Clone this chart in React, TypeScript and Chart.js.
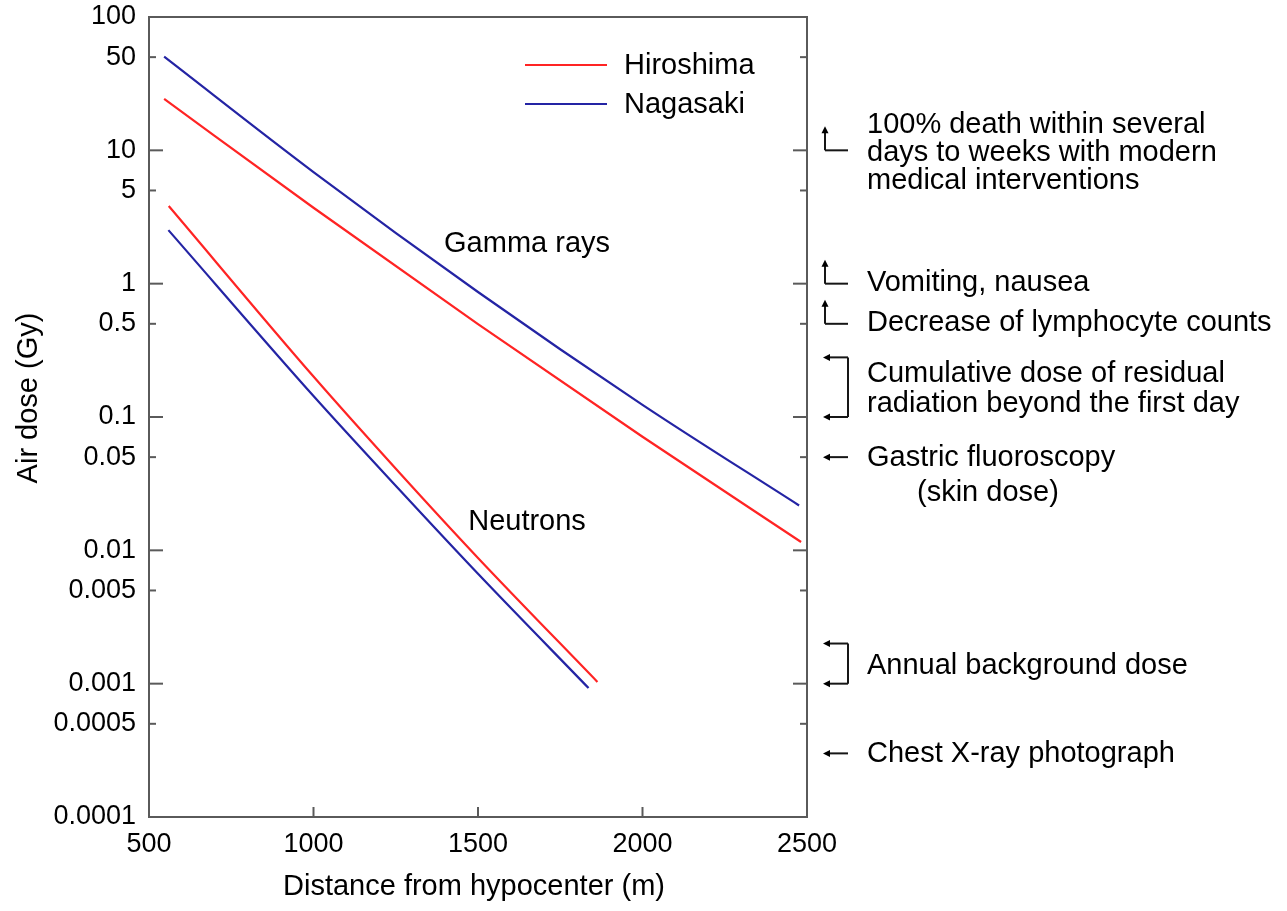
import React, { useEffect, useRef } from "react";
import { Chart, registerables } from "chart.js";

Chart.register(...registerables);

// ---- Data (distance in m, air dose in Gy) ----
const hiroshimaGammaDistance = [546, 1000, 1500, 2000, 2482];
const hiroshimaGammaDose = [24.3, 3.71, 0.498, 0.0711, 0.01155];
const nagasakiGammaDistance = [546, 1000, 1500, 2000, 2476];
const nagasakiGammaDose = [50.4, 6.87, 0.866, 0.1234, 0.0217];
const hiroshimaNeutronDistance = [560, 1000, 1262, 1500, 1863];
const hiroshimaNeutronDose = [3.82, 0.201, 0.038, 0.00876, 0.00103];
const nagasakiNeutronDistance = [559, 1000, 1257, 1500, 1836];
const nagasakiNeutronDose = [2.52, 0.1436, 0.0292, 0.00667, 0.000927];

const yTickValues = [100, 50, 10, 5, 1, 0.5, 0.1, 0.05, 0.01, 0.005, 0.001, 0.0005, 0.0001];
const yTickLabels = ["100", "50", "10", "5", "1", "0.5", "0.1", "0.05", "0.01", "0.005", "0.001", "0.0005", "0.0001"];
const xTickValues = [500, 1000, 1500, 2000, 2500];
const xTickLabels = ["500", "1000", "1500", "2000", "2500"];

const seriesNames = ["Hiroshima", "Nagasaki"];
const seriesColors = ["#ff2424", "#2424a4"];

// right-hand annotations
const upArrowDoses = [10, 1, 0.5];
const upArrowTexts = [
  ["100% death within several", "days to weeks with modern", "medical interventions"],
  ["Vomiting, nausea"],
  ["Decrease of lymphocyte counts"],
];
const rangeLowDoses = [0.1, 0.001];
const rangeHighDoses = [0.28, 0.002];
const rangeTexts = [
  ["Cumulative dose of residual", "radiation beyond the first day"],
  ["Annual background dose"],
];
const pointDoses = [0.05, 0.0003];
const pointTexts = [["Gastric fluoroscopy", "(skin dose)"], ["Chest X-ray photograph"]];

const curveLabels = ["Gamma rays", "Neutrons"];
const curveLabelDistance = [1649, 1649];
const curveLabelDose = [1.98, 0.0163];

const FONT = '"Liberation Sans", Arial, Helvetica, sans-serif';
const INK = "#000000";

function pts(xs: number[], ys: number[]) {
  return xs.map((x, i) => ({ x, y: ys[i] }));
}

export default function App() {
  const ref = useRef<HTMLCanvasElement>(null);

  useEffect(() => {
    const canvas = ref.current!;

    const overlay = {
      id: "overlay",
      afterDraw(chart: any) {
        const c: CanvasRenderingContext2D = chart.ctx;
        const { left, right, top, bottom } = chart.chartArea;
        const xs = chart.scales.x;
        const ys = chart.scales.y;
        const line = (x1: number, y1: number, x2: number, y2: number) => {
          c.beginPath();
          c.moveTo(x1, y1);
          c.lineTo(x2, y2);
          c.stroke();
        };
        const head = (x: number, y: number, dir: "up" | "left") => {
          c.beginPath();
          if (dir === "up") {
            c.moveTo(x, y);
            c.lineTo(x - 3.5, y + 7);
            c.lineTo(x + 3.5, y + 7);
          } else {
            c.moveTo(x, y);
            c.lineTo(x + 7, y - 3.5);
            c.lineTo(x + 7, y + 3.5);
          }
          c.closePath();
          c.fill();
        };
        c.save();
        // frame
        c.strokeStyle = "#5a5a5a";
        c.lineWidth = 2;
        c.strokeRect(left, top, right - left, bottom - top);
        // y ticks (inward, both sides)
        yTickValues.forEach((v) => {
          const y = ys.getPixelForValue(v);
          const lg = Math.log10(v);
          const major = Math.abs(lg - Math.round(lg)) < 1e-6;
          const len = major ? 14 : 7;
          line(left, y, left + len, y);
          line(right, y, right - len, y);
        });
        xTickValues.slice(1, -1).forEach((v) => {
          const x = xs.getPixelForValue(v);
          line(x, bottom, x, bottom - 10);
        });

        // axis titles
        c.fillStyle = INK;
        c.font = `29px ${FONT}`;
        c.textAlign = "center";
        c.textBaseline = "middle";
        c.fillText("Distance from hypocenter (m)", (left + right) / 2 - 4, 887);
        c.save();
        c.translate(29, 398);
        c.rotate(-Math.PI / 2);
        c.fillText("Air dose (Gy)", 0, 0);
        c.restore();

        // curve labels
        curveLabels.forEach((t, i) => {
          c.fillText(t, xs.getPixelForValue(curveLabelDistance[i]), ys.getPixelForValue(curveLabelDose[i]));
        });

        // legend
        c.textAlign = "left";
        seriesNames.forEach((n, i) => {
          const ly = top + 48 + i * 39;
          c.strokeStyle = seriesColors[i];
          c.lineWidth = 2;
          line(525, ly, 607, ly);
          c.fillStyle = INK;
          c.fillText(n, 624, ly + 1);
        });

        // right annotations
        c.strokeStyle = "#161616";
        c.fillStyle = INK;
        c.lineWidth = 2;
        const ax = right + 18;
        const bx = right + 41;
        const tx = right + 60;
        const lh = 28;
        upArrowDoses.forEach((d, i) => {
          const y = ys.getPixelForValue(d);
          line(ax, y, bx, y);
          line(ax, y, ax, y - 19);
          head(ax, y - 24, "up");
          const lines = upArrowTexts[i];
          const start = lines.length === 3 ? y - 25 : y - 1;
          lines.forEach((t, j) => c.fillText(t, tx, start + j * lh));
        });
        rangeLowDoses.forEach((d, i) => {
          const yl = ys.getPixelForValue(d);
          const yh = ys.getPixelForValue(rangeHighDoses[i]);
          line(ax + 3, yh, bx, yh);
          line(bx, yh, bx, yl);
          line(ax + 3, yl, bx, yl);
          head(ax - 2, yh, "left");
          head(ax - 2, yl, "left");
          const lines = rangeTexts[i];
          const mid = (yl + yh) / 2 + 2;
          const start = mid - ((lines.length - 1) * 30) / 2;
          lines.forEach((t, j) => c.fillText(t, tx, start + j * 30));
        });
        pointDoses.forEach((d, i) => {
          const y = ys.getPixelForValue(d);
          line(ax + 3, y, bx, y);
          head(ax - 2, y, "left");
          const lines = pointTexts[i];
          c.fillText(lines[0], tx, y + 1);
          if (lines[1]) c.fillText(lines[1], tx + 50, y + 36);
        });
        c.restore();
      },
    };

    const mkDs = (label: string, data: any[], color: string) => ({
      label,
      data,
      borderColor: color,
      backgroundColor: color,
      borderWidth: 2.2,
      pointRadius: 0,
      fill: false,
      cubicInterpolationMode: "monotone" as const,
    });

    const chart = new Chart(canvas, {
      type: "line",
      data: {
        datasets: [
          mkDs("Hiroshima gamma", pts(hiroshimaGammaDistance, hiroshimaGammaDose), seriesColors[0]),
          mkDs("Nagasaki gamma", pts(nagasakiGammaDistance, nagasakiGammaDose), seriesColors[1]),
          mkDs("Hiroshima neutrons", pts(hiroshimaNeutronDistance, hiroshimaNeutronDose), seriesColors[0]),
          mkDs("Nagasaki neutrons", pts(nagasakiNeutronDistance, nagasakiNeutronDose), seriesColors[1]),
        ],
      },
      options: {
        animation: false,
        responsive: true,
        maintainAspectRatio: false,
        layout: { padding: { top: 17, right: 480, left: 0, bottom: 0 } },
        plugins: { legend: { display: false }, tooltip: { enabled: false } },
        scales: {
          x: {
            type: "linear",
            min: 500,
            max: 2500,
            grid: { display: false, drawTicks: false },
            border: { display: false },
            afterBuildTicks: (s: any) => {
              s.ticks = xTickValues.map((v) => ({ value: v }));
            },
            afterFit: (s: any) => {
              s.height = 94;
              s.paddingLeft = 0;
              s.paddingRight = 0;
            },
            ticks: {
              autoSkip: false,
              maxRotation: 0,
              padding: 11,
              color: INK,
              font: { family: FONT, size: 27 },
              callback: (v: any) => {
                const i = xTickValues.indexOf(Number(v));
                return i >= 0 ? xTickLabels[i] : "";
              },
            },
          },
          y: {
            type: "logarithmic",
            min: 0.0001,
            max: 100,
            grid: { display: false, drawTicks: false },
            border: { display: false },
            afterBuildTicks: (s: any) => {
              s.ticks = yTickValues.map((v) => ({ value: v }));
            },
            afterFit: (s: any) => {
              s.width = 149;
              s.paddingTop = 0;
              s.paddingBottom = 0;
            },
            ticks: {
              autoSkip: false,
              padding: 13,
              color: INK,
              font: { family: FONT, size: 27 },
              callback: (v: any) => {
                const n = Number(v);
                const i = yTickValues.findIndex((t) => Math.abs(t - n) / t < 1e-6);
                return i >= 0 ? yTickLabels[i] : "";
              },
            },
          },
        },
      },
      plugins: [overlay],
    });
    return () => chart.destroy();
  }, []);

  return (
    <div style={{ position: "fixed", left: 0, top: 0, width: 1287, height: 911, background: "#fff" }}>
      <canvas ref={ref} />
    </div>
  );
}
